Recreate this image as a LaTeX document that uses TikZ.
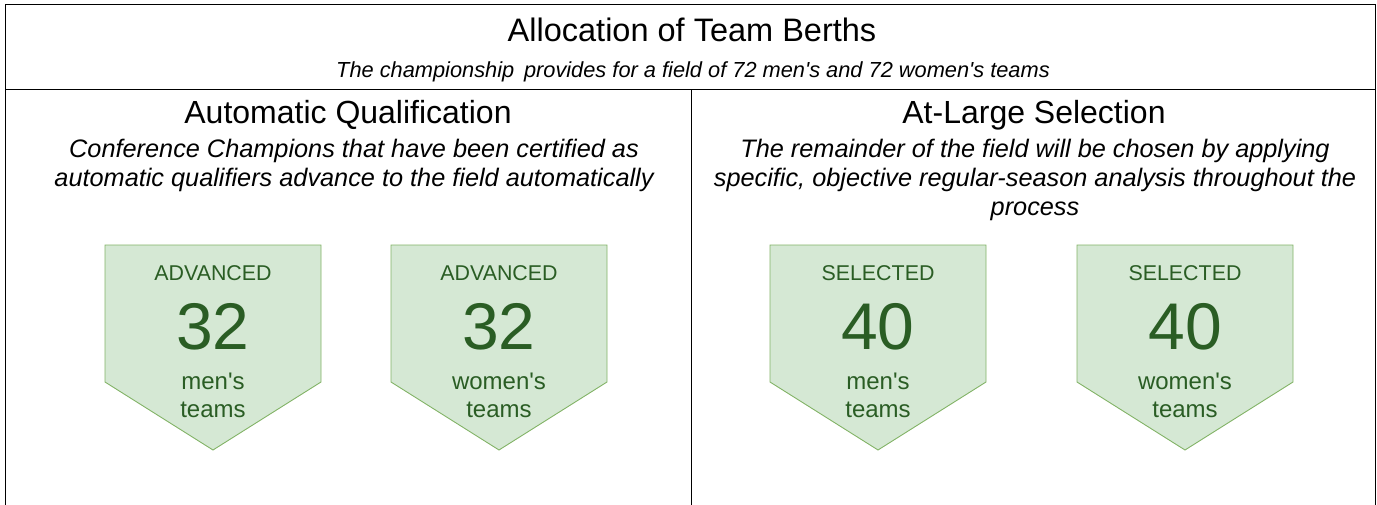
\documentclass[tikz,border=0pt]{standalone}
\usepackage{fontspec}
\setmainfont{Liberation Sans}
\newfontfamily\arialish{Liberation Sans}
\usepackage{tikz}
\definecolor{berthfill}{HTML}{D5E8D4}
\definecolor{berthline}{HTML}{82B366}
\definecolor{berthtext}{HTML}{2A5D24}

\begin{document}
\begin{tikzpicture}
[x=1pt,y=-1pt,font=\arialish,
title/.style = {font=\arialish\fontsize{32.5}{38}\selectfont},
heading/.style = {font=\arialish\fontsize{32}{37}\selectfont},
note/.style = {font=\arialish\fontsize{21.8}{24}\selectfont\itshape},
desc/.style = {font=\arialish\fontsize{25.3}{29}\selectfont\itshape, align=center},
badge/.style = {fill=berthfill, draw=berthline, line width=0.9pt},
kind/.style = {text=berthtext, font=\arialish\fontsize{21.4}{25}\selectfont},
count/.style = {text=berthtext, font=\arialish\fontsize{66}{70}\selectfont},
who/.style = {text=berthtext, font=\arialish\fontsize{24}{28}\selectfont, align=center},]

\useasboundingbox (0,0) rectangle (1377,504);
\def\half{108}

% frame
\draw [line width=0.9pt] (5,506) -- (5,4) -- (1375,4) -- (1375,506);
\draw [line width=0.9pt] (5,89) -- (1375,89);
\draw [line width=0.9pt] (691,89) -- (691,506);

\node (T) at (692,30)[title] {Allocation of Team Berths};
\node (N) at (693,72)[note] {The championship\, provides for a field of 72 men's and 72 women's teams};

\node (AQ) at (348,115)[heading] {Automatic Qualification};
\node (AQd) at (354,165)[desc] {Conference Champions that have been certified as\\automatic qualifiers advance to the field automatically};
\node (AL) at (1034,115)[heading] {At-Large Selection};
\node (ALd) at (1035,180)[desc] {The remainder of the field will be chosen by applying\\specific, objective regular-season analysis throughout the\\process};

% badges
\foreach \cx/\k/\n/\w [count=\i] in {213/ADVANCED/32/men's, 499/ADVANCED/32/women's, 878/SELECTED/40/men's, 1185/SELECTED/40/women's}
{
\draw [badge] (\cx-\half,245) -- (\cx+\half,245) -- (\cx+\half,382) -- (\cx,450) -- (\cx-\half,382) -- cycle;
\node (K\i) at (\cx,273)[kind] {\k};
\node (C\i) at (\cx,327)[count] {\n};
\node (W\i) at (\cx,395)[who] {\w\\teams};
}

\end{tikzpicture}
\end{document}
